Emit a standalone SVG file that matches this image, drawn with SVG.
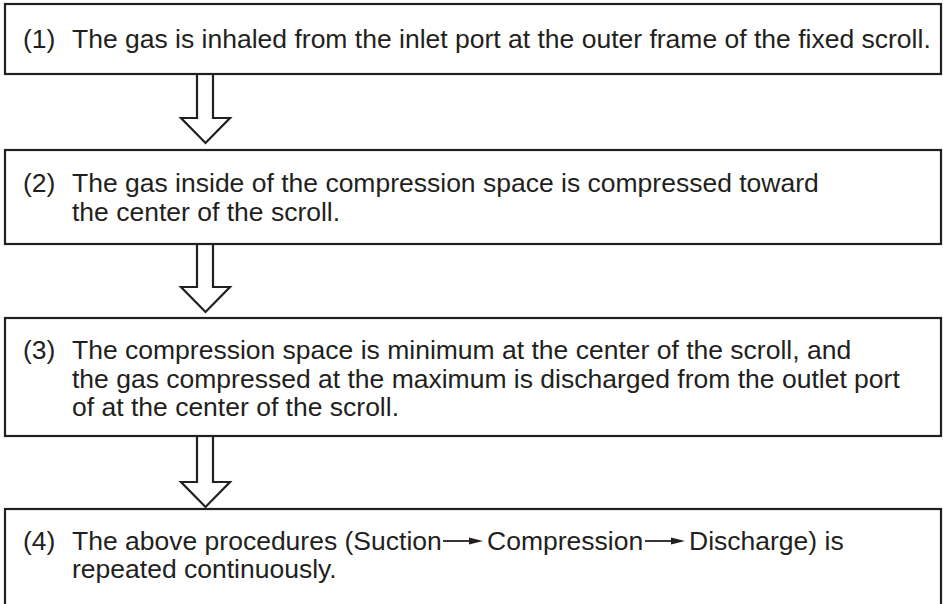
<svg xmlns="http://www.w3.org/2000/svg" width="943" height="604" viewBox="0 0 943 604">
<style>
.box{fill:#fff;stroke:#231f20;stroke-width:2.2}
.t{font-family:"Liberation Sans",Arial,sans-serif;font-size:26.5px;fill:#231f20}
.arr{fill:#fff;stroke:#231f20;stroke-width:2.2;stroke-linejoin:miter}
.sa{stroke:#231f20;stroke-width:1.8}
</style>
<rect width="943" height="604" fill="#fff"/>
<g id="connectors">
<polygon class="arr" points="197,74 213,74 213,118 230,118 205.5,143 181,118 197,118"/>
<polygon class="arr" points="197,244 213,244 213,287 230,287 205.5,312 181,287 197,287"/>
<polygon class="arr" points="197,436 213,436 213,482 230,482 205.5,507 181,482 197,482"/>
</g>
<g id="node1">
<rect class="box" x="5" y="4" width="936" height="70"/>
<text class="t" x="23" y="48">(1)</text>
<text class="t" x="72" y="48">The gas is inhaled from the inlet port at the outer frame of the fixed scroll.</text>
</g>
<g id="node2">
<rect class="box" x="5" y="150" width="936" height="94"/>
<text class="t" x="23" y="192">(2)</text>
<text class="t" x="72" y="192">The gas inside of the compression space is compressed toward</text>
<text class="t" x="72" y="221">the center of the scroll.</text>
</g>
<g id="node3">
<rect class="box" x="5" y="318" width="936" height="118"/>
<text class="t" x="23" y="359">(3)</text>
<text class="t" x="72" y="359">The compression space is minimum at the center of the scroll, and</text>
<text class="t" x="72" y="388">the gas compressed at the maximum is discharged from the outlet port</text>
<text class="t" x="72" y="416">of at the center of the scroll.</text>
</g>
<g id="node4">
<rect class="box" x="5" y="509" width="936" height="100"/>
<text class="t" x="23" y="550">(4)</text>
<text class="t" x="72" y="550">The above procedures (Suction</text>
<text class="t" x="487" y="550">Compression</text>
<text class="t" x="689" y="550">Discharge) is</text>
<text class="t" x="72" y="578">repeated continuously.</text>
<line class="sa" x1="443" y1="541" x2="471" y2="541"/>
<polygon points="469,537.5 483,541 469,544.5" fill="#231f20"/>
<line class="sa" x1="645" y1="541" x2="673" y2="541"/>
<polygon points="671,537.5 685,541 671,544.5" fill="#231f20"/>
</g>
</svg>
